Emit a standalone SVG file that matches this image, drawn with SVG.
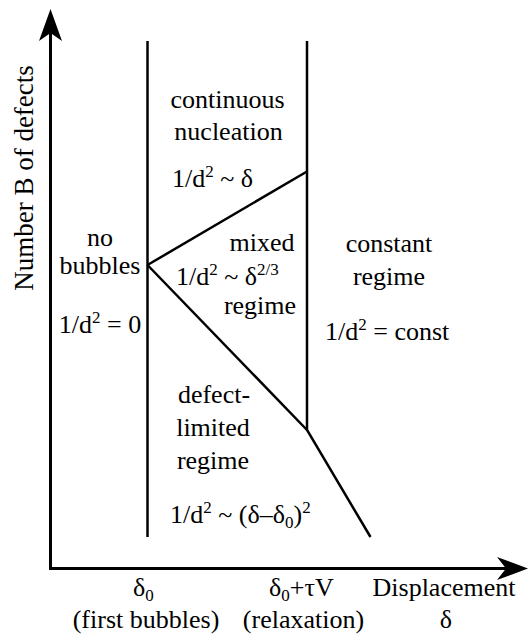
<svg xmlns="http://www.w3.org/2000/svg" width="529" height="641" viewBox="0 0 529 641">
<style>
.t{font-family:"Liberation Serif","Times New Roman",Times,serif;font-size:26px;fill:#000}
.m{text-anchor:middle}
.s{font-size:17px}
.ax{stroke:#000;stroke-width:3;fill:none}
.ln{stroke:#000;stroke-width:2.5;fill:none;stroke-linejoin:miter}
.ah{fill:#000;stroke:none}
</style>
<rect width="529" height="641" fill="#fff"/>
<g id="axes">
<path class="ax" d="M50.5,570 V30"/>
<path class="ah" d="M50.5,9 L62,41 L50.5,33 L39,41 Z"/>
<path class="ax" d="M49,568.5 H510"/>
<path class="ah" d="M528,568.5 L497,557 L506,568.5 L497,580 Z"/>
<text class="t m" transform="translate(33,178) rotate(-90)" style="font-size:27px">Number B of defects</text>
</g>
<g id="connectors">
<path class="ln" d="M147.5,41 V537"/>
<path class="ln" d="M307,41 V430 L370.5,537"/>
<path class="ln" d="M147.5,265 L307,171.5"/>
<path class="ln" d="M147.5,265 L307,430"/>
</g>
<g id="continuous-nucleation">
<text class="t m" x="227.5" y="108">continuous</text>
<text class="t m" x="228.5" y="140">nucleation</text>
<text class="t" x="172" y="187">1/d<tspan class="s" dy="-10">2</tspan><tspan dy="10"> ~ δ</tspan></text>
</g>
<g id="no-bubbles">
<text class="t m" x="100" y="246">no</text>
<text class="t m" x="100" y="274">bubbles</text>
<text class="t m" x="100" y="333">1/d<tspan class="s" dy="-10">2</tspan><tspan dy="10"> = 0</tspan></text>
</g>
<g id="mixed-regime">
<text class="t m" x="262" y="251">mixed</text>
<text class="t" x="176" y="285">1/d<tspan class="s" dy="-10">2</tspan><tspan dy="10"> ~ δ</tspan><tspan class="s" dy="-10">2/3</tspan></text>
<text class="t m" x="260" y="314">regime</text>
</g>
<g id="constant-regime">
<text class="t m" x="389" y="252">constant</text>
<text class="t m" x="389" y="285">regime</text>
<text class="t" x="325" y="340">1/d<tspan class="s" dy="-10">2</tspan><tspan dy="10"> = const</tspan></text>
</g>
<g id="defect-limited-regime">
<text class="t m" x="214" y="403">defect-</text>
<text class="t m" x="213" y="436">limited</text>
<text class="t m" x="213" y="469">regime</text>
<text class="t" x="170" y="523">1/d<tspan class="s" dy="-10">2</tspan><tspan dy="10"> ~ (δ–δ</tspan><tspan class="s" dy="5">0</tspan><tspan dy="-5">)</tspan><tspan class="s" dy="-10">2</tspan></text>
</g>
<g id="x-labels">
<text class="t" x="133" y="596">δ<tspan class="s" dy="5">0</tspan></text>
<text class="t m" x="146" y="628">(first bubbles)</text>
<text class="t" x="269" y="596">δ<tspan class="s" dy="5">0</tspan><tspan dy="-5">+τV</tspan></text>
<text class="t m" x="303.5" y="628">(relaxation)</text>
<text class="t m" x="444" y="596">Displacement</text>
<text class="t m" x="446" y="628">δ</text>
</g>
</svg>
